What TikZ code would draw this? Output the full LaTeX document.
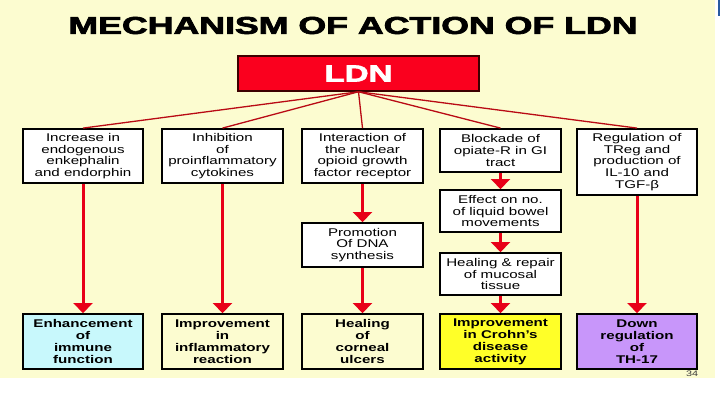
\documentclass[tikz,border=0pt]{standalone}
\usepackage{fontspec}
\setmainfont[FakeStretch=1.35]{Liberation Sans}
\newfontfamily\heavyfont[FakeBold=2.5]{Liberation Sans Bold}
\usetikzlibrary{arrows.meta}
\definecolor{cream}{RGB}{252,252,208}
\definecolor{ldnred}{RGB}{250,0,30}
\definecolor{arrred}{RGB}{232,0,24}
\definecolor{thinred}{RGB}{185,10,20}
\definecolor{cyanbox}{RGB}{200,248,252}
\definecolor{yelbox}{RGB}{255,255,40}
\definecolor{violetbox}{RGB}{200,150,250}
\definecolor{bluebar}{RGB}{40,90,160}
\begin{document}
\begin{tikzpicture}[x=1pt,y=-1pt,
  box/.style={draw=black,line width=1.8pt,fill=white,inner sep=0pt,
    align=center,font=\fontsize{11.2}{11.8}\selectfont,minimum width=120pt},
  resbox/.style={box,font=\fontsize{11.2}{12}\selectfont\bfseries,minimum height=55pt},
  bigarrow/.style={draw=arrred,line width=3pt,-{Triangle[width=19pt,length=10pt]}},
  thinline/.style={draw=thinred,line width=1.3pt}]
\useasboundingbox (0,0) rectangle (720,405);
\fill[white] (0,0) rectangle (720,405);
\fill[cream] (0,0) rectangle (715,378);
\fill[bluebar] (718,0) rectangle (720,16);

\node[inner sep=0pt] (title) at (353,25.5) {\resizebox{569pt}{17pt}{\heavyfont MECHANISM OF ACTION OF LDN}};
\node[draw={rgb,255:red,60;green,0;blue,0},line width=1.5pt,fill=ldnred,minimum width=241pt,minimum height=35pt,inner sep=0pt] (ldn) at (358.5,73.5) {\color{white}\resizebox{68pt}{16pt}{\heavyfont LDN}};

\node[box,minimum height=54pt] (t1) at (83,156) {Increase in\\endogenous\\enkephalin\\and endorphin};
\node[box,minimum height=54pt,minimum width=121pt] (t2) at (222.5,156) {Inhibition\\of\\proinflammatory\\cytokines};
\node[box,minimum height=54pt,minimum width=121pt] (t3) at (362.5,156) {Interaction of\\the nuclear\\opioid growth\\factor receptor};
\node[box,minimum height=43pt,minimum width=121pt] (t4) at (500.5,150.5) {Blockade of\\opiate-R in GI\\tract};
\node[box,minimum height=66pt] (t5) at (637,162) {Regulation of\\TReg and\\production of\\IL-10 and\\TGF-β};

\node[box,minimum height=44pt,minimum width=121pt] (promo) at (362.5,245) {Promotion\\Of DNA\\synthesis};
\node[box,minimum height=42pt,minimum width=121pt] (effect) at (500.5,211) {Effect on no.\\of liquid bowel\\movements};
\node[box,minimum height=42pt,minimum width=121pt] (heal) at (500.5,274) {Healing \& repair\\of mucosal\\tissue};

\node[resbox,fill=cyanbox] (b1) at (83,341.5) {Enhancement\\of\\immune\\function};
\node[resbox,fill=cream,minimum width=121pt] (b2) at (222.5,341.5) {Improvement\\in\\inflammatory\\reaction};
\node[resbox,fill=cream,minimum width=121pt] (b3) at (362.5,341.5) {Healing\\of\\corneal\\ulcers};
\node[resbox,fill=yelbox,minimum width=121pt] (b4) at (500.5,341.5) {Improvement\\in Crohn's\\disease\\activity};
\node[resbox,fill=violetbox] (b5) at (637,341.5) {Down\\regulation\\of\\TH-17};

\node[inner sep=0pt,font=\fontsize{8}{9}\selectfont,text={rgb,255:red,60;green,60;blue,60}] (pg) at (692,374) {34};

\foreach \t in {t1,t2,t3,t4,t5}
  \draw[thinline] (ldn.south) -- (\t.north);

\draw[bigarrow] (t1) -- (b1);
\draw[bigarrow] (t2) -- (b2);
\draw[bigarrow] (t3) -- (promo);
\draw[bigarrow] (promo) -- (b3);
\draw[bigarrow] (t4) -- (effect);
\draw[bigarrow] (effect) -- (heal);
\draw[bigarrow] (heal) -- (b4);
\draw[bigarrow] (t5) -- (b5);
\end{tikzpicture}
\end{document}
